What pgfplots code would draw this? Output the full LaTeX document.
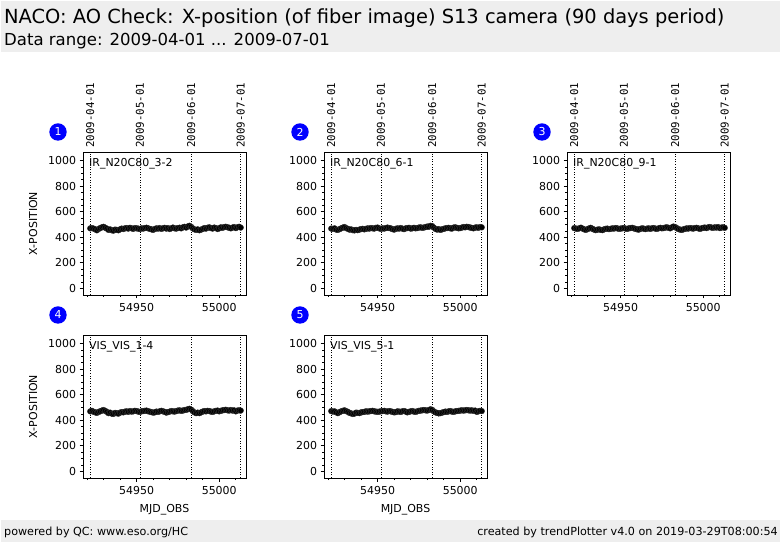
\documentclass[border=0pt]{standalone}
\usepackage{fontspec}
\setmainfont{DejaVu Sans}
\newfontfamily\monofont{DejaVu Sans Mono}
\usepackage{pgfplots}
\usepackage{pgfplotstable}
\pgfplotsset{compat=1.18}
\definecolor{bandgray}{HTML}{EEEEEE}

\pgfplotstableread{
x a b c d e
54922 470 468 472 470 472
54923 472 466 468 474 468
54924 468 470 466 466 470
54925 462 460 470 462 462
54926 455 458 475 458 456
54927 465 464 468 466 464
54928 472 470 462 470 470
54929 478 476 458 476 474
54930 482 480 464 480 478
54931 475 472 470 474 472
54932 468 466 474 466 466
54933 458 460 466 456 458
54934 462 462 460 460 454
54935 455 456 456 452 450
54936 452 454 460 450 452
54937 460 458 462 458 460
54938 458 456 458 456 458
54939 455 460 456 452 456
54940 462 464 462 460 462
54941 468 466 466 464 464
54942 465 462 468 462 466
54943 470 466 464 468 470
54944 472 470 466 470 468
54945 468 468 470 466 470
54946 474 472 468 472 472
54947 470 470 472 468 474
54948 466 468 470 470 470
54949 472 474 466 474 468
54950 470 476 468 472 466
54951 468 470 470 468 468
54952 465 466 472 466 470
54953 470 470 468 470 472
54954 468 468 466 472 474
54955 472 472 470 474 470
54956 475 476 472 476 468
54957 470 472 474 470 472
54958 466 470 470 468 470
54959 462 464 466 464 466
54960 458 460 462 460 462
54961 465 466 460 462 464
54962 470 470 466 468 470
54963 468 468 470 466 468
54964 472 472 468 470 466
54965 466 468 464 474 470
54966 470 464 468 470 472
54967 474 470 470 466 468
54968 468 472 466 460 462
54969 472 474 470 464 466
54970 465 468 472 468 470
54971 470 470 468 472 472
54972 476 474 466 470 468
54973 470 470 470 468 466
54974 468 472 474 472 470
54975 472 476 470 476 474
54976 475 478 472 478 476
54977 470 474 476 474 478
54978 478 476 478 476 480
54979 482 480 474 480 478
54980 476 484 470 482 476
54981 485 482 478 486 480
54982 490 490 484 490 486
54983 482 488 480 484 482
54984 470 476 472 472 470
54985 462 466 464 462 462
54986 458 460 460 456 458
54987 462 464 458 460 454
54988 455 458 462 456 456
54989 460 462 466 462 460
54990 465 466 470 468 464
54991 472 470 468 472 468
54992 468 472 472 470 466
54993 475 474 470 474 470
54994 478 470 468 472 472
54995 472 468 472 468 468
54996 468 476 474 466 466
54997 476 478 470 470 470
54998 472 474 466 474 472
54999 465 470 470 476 474
55000 470 472 474 470 476
55001 478 476 476 474 478
55002 474 480 472 478 476
55003 480 478 478 480 478
55004 482 482 480 482 480
55005 478 480 476 478 478
55006 475 476 474 476 476
55007 470 474 478 480 478
55008 476 470 476 476 474
55009 480 476 480 478 476
55010 472 478 472 470 466
55011 478 474 476 476 470
55012 482 480 478 478 474
55013 476 478 474 476 472
}\datatab

\tikzset{
  vdot/.style={black, line width=0.6pt, dash pattern=on 1bp off 1.6bp},
  dlab/.style={rotate=90, anchor=west, inner sep=0pt, font=\monofont\fontsize{10.8}{12}\selectfont},
}

\pgfplotsset{
  panel/.style={
    scale only axis, width=163bp, height=143bp, anchor=south west,
    xmin=54917.6, xmax=55016.2, ymin=-52, ymax=1068,
    xtick={54950,55000}, minor xtick={54920,54930,54940,54960,54970,54980,54990,55010},
    ytick={0,200,400,600,800,1000}, minor ytick={50,100,150,250,300,350,450,500,550,650,700,750,850,900,950},
    tick pos=left, tick align=outside,
    major tick length=3.5bp, minor tick length=2bp,
    every tick/.style={black, line width=0.7pt},
    axis line style={line width=0.8pt},
    scaled x ticks=false, scaled y ticks=false,
    /pgf/number format/1000 sep={},
    /pgf/number format/assume math mode=true,
    tick label style={font=\fontsize{11}{12}\selectfont},
    xticklabel style={yshift=-1bp},
    label style={font=\fontsize{11}{12}\selectfont},
    ylabel style={yshift=4bp},
    xlabel style={yshift=-3bp},
    clip=false,
  },
  pts/.style={only marks, mark=*, mark size=2.9bp, black, mark options={draw=black!80, fill=black}},
}

\newcommand{\vlines}{%
  \draw[vdot] (axis cs:54922,-52) -- (axis cs:54922,1068);
  \draw[vdot] (axis cs:54952,-52) -- (axis cs:54952,1068);
  \draw[vdot] (axis cs:54983,-52) -- (axis cs:54983,1068);
  \draw[vdot] (axis cs:55013,-52) -- (axis cs:55013,1068);
}
\newcommand{\dates}{%
  \node[dlab] at ([yshift=4bp]axis cs:54922,1068) {2009-04-01};
  \node[dlab] at ([yshift=4bp]axis cs:54952,1068) {2009-05-01};
  \node[dlab] at ([yshift=4bp]axis cs:54983,1068) {2009-06-01};
  \node[dlab] at ([yshift=4bp]axis cs:55013,1068) {2009-07-01};
}
\newcommand{\plabel}[1]{%
  \node[anchor=north west, inner sep=0pt, font=\fontsize{11}{12}\selectfont] at ([xshift=6bp,yshift=-6bp]rel axis cs:0,1) {#1};
}

\newcommand{\badge}[3]{%
  \fill[blue] (#1bp,#2bp) circle (8.7bp);
  \node[white, font=\fontsize{11}{12}\selectfont, inner sep=0pt] at (#1bp,#2bp) {#3};
}

\begin{document}
\begin{tikzpicture}
\fill[white] (0,0) rectangle (782bp,542bp);
\fill[bandgray] (1bp,490bp) rectangle (780bp,541bp);
\fill[bandgray] (1bp,0bp) rectangle (780bp,22bp);
\node[anchor=base west, inner sep=0pt, font=\fontsize{19.5}{22}\selectfont] at (4bp,518bp) {NACO: AO Check: X-position (of fiber image) S13 camera (90 days period)};
\node[anchor=base west, inner sep=0pt, font=\fontsize{16.6}{19}\selectfont] at (4bp,496bp) {Data range: 2009-04-01 ... 2009-07-01};
\node[anchor=base west, inner sep=0pt, font=\fontsize{11.2}{13}\selectfont] at (4bp,7bp) {powered by QC: www.eso.org/HC};
\node[anchor=base east, inner sep=0pt, font=\fontsize{11.2}{13}\selectfont] at (778bp,7bp) {created by trendPlotter v4.0 on 2019-03-29T08:00:54};

\badge{58}{410}{1}
\badge{300}{410}{2}
\badge{542}{410}{3}
\badge{58}{227}{4}
\badge{300}{227}{5}

\begin{axis}[panel, at={(83bp,247bp)}, ylabel={X-POSITION}]
\addplot[pts] table[x=x,y=a] {\datatab};
\vlines\dates\plabel{IR\_N20C80\_3-2}
\end{axis}
\begin{axis}[panel, at={(324bp,247bp)}]
\addplot[pts] table[x=x,y=b] {\datatab};
\vlines\dates\plabel{IR\_N20C80\_6-1}
\end{axis}
\begin{axis}[panel, at={(567bp,247bp)}]
\addplot[pts] table[x=x,y=c] {\datatab};
\vlines\dates\plabel{IR\_N20C80\_9-1}
\end{axis}
\begin{axis}[panel, at={(83bp,64bp)}, ylabel={X-POSITION}, xlabel={MJD\_OBS}]
\addplot[pts] table[x=x,y=d] {\datatab};
\vlines\plabel{VIS\_VIS\_1-4}
\end{axis}
\begin{axis}[panel, at={(324bp,64bp)}, xlabel={MJD\_OBS}]
\addplot[pts] table[x=x,y=e] {\datatab};
\vlines\plabel{VIS\_VIS\_5-1}
\end{axis}
\end{tikzpicture}
\end{document}
